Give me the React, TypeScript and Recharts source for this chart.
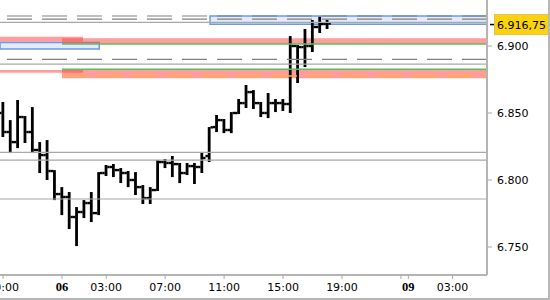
import React from 'react'
import { Bar, ComposedChart, ReferenceArea, ReferenceLine, XAxis, YAxis } from 'recharts';

// 30 minute bars, slot 0 = 20:00 on the 5th
const opens = [6850.0, 6835.8, 6828.3, 6847.0, 6835.8, 6822.4, 6818.6, 6806.7, 6789.5, 6787.3, 6772.4, 6776.1, 6782.8, 6775.3, 6805.2, 6809.7, 6807.4, 6805.2, 6800.0, 6794.7, 6786.5, 6792.5, 6813.4, 6812.7, 6811.9, 6805.2, 6810.4, 6809.7, 6817.9, 6839.5, 6844.7, 6837.3, 6850.0, 6857.4, 6865.6, 6857.4, 6850.0, 6857.4, 6857.4, 6856.7, 6900.0, 6899.2, 6900.0, 6914.2, 6916.4];
const highs = [6858.2, 6844.7, 6859.7, 6847.7, 6854.4, 6828.3, 6829.8, 6807.4, 6794.7, 6791.0, 6779.8, 6785.0, 6791.0, 6805.9, 6811.2, 6811.9, 6808.9, 6806.7, 6805.9, 6796.2, 6794.7, 6814.9, 6815.6, 6817.9, 6812.7, 6812.7, 6812.7, 6820.9, 6839.5, 6848.5, 6845.5, 6850.7, 6860.4, 6870.9, 6867.1, 6858.2, 6864.9, 6860.4, 6860.4, 6907.4, 6900.7, 6912.7, 6919.4, 6921.8, 6919.4];
const lows = [6832.1, 6820.1, 6823.8, 6827.6, 6820.1, 6805.2, 6800.0, 6785.0, 6773.8, 6763.4, 6750.7, 6771.6, 6768.6, 6773.8, 6803.0, 6802.2, 6797.7, 6794.7, 6788.8, 6782.1, 6782.1, 6791.8, 6808.9, 6802.2, 6797.7, 6803.7, 6797.0, 6805.2, 6813.4, 6835.8, 6835.0, 6835.0, 6849.2, 6853.7, 6853.0, 6847.0, 6846.2, 6850.7, 6851.5, 6850.0, 6872.4, 6884.3, 6895.5, 6909.7, 6912.7];
const closes = [6835.8, 6828.3, 6847.0, 6835.8, 6822.4, 6818.6, 6806.7, 6789.5, 6787.3, 6772.4, 6776.1, 6782.8, 6775.3, 6805.2, 6809.7, 6807.4, 6805.2, 6800.0, 6794.7, 6786.5, 6792.5, 6813.4, 6812.7, 6811.9, 6805.2, 6810.4, 6809.7, 6816.4, 6839.3, 6844.7, 6837.3, 6850.0, 6857.4, 6865.6, 6857.4, 6850.0, 6857.4, 6857.4, 6856.7, 6900.0, 6899.2, 6900.0, 6914.2, 6916.4, 6916.75];

const lastPrice = 6916.75;

const tickSlots = [0, 8, 14, 22, 30, 38, 46, 54, 55, 61];
const tickLabels = ['20:00', '06', '03:00', '07:00', '11:00', '15:00', '19:00', '', '09', '03:00'];
const dayTicks = ['06', '09'];
const priceTicks = [6750, 6800, 6850, 6900];

const slotMin = -0.414;
const slotMax = 65.68;
const sessionStart = 8;
const prevSessionEnd = 10.85;

// levels
const dashedGrayLevels = [6922.4, 6920.1, 6890.0];
const solidGrayLevels = [6917.7, 6886.5, 6820.6, 6814.9, 6785.8];
const greenLevels = [6901.5, 6882.6];
const orangeLevels = [6877.6];
const prevSessionZones = [[6903.2, 6906.9], [6880.0, 6882.1]];
const sessionZones = [[6901.5, 6905.7], [6875.9, 6882.1]];
const blueZoneSlots = [[slotMin, 13.06], [28.09, slotMax]];
const blueZonePrices = [[6897.7, 6902.7], [6916.2, 6922.4]];

const data = opens.map((o, i) => ({
    slot: i,
    open: o,
    high: highs[i],
    low: lows[i],
    close: closes[i],
    range: [lows[i], highs[i]]
}));

const fmt = (v: number) => {
    const s = Math.round(v).toString();
    return s.slice(0, s.length - 3) + '.' + s.slice(-3);
};

const fmtLast = (v: number) => {
    const [a, b] = v.toFixed(2).split('.');
    return fmt(Number(a)) + ',' + b;
};

const OhlcBar = (props: any) => {
    const { x, y, width, height } = props;
    const p = props.payload || props;
    if (height == null || isNaN(y)) return null;
    const cx = x + width / 2;
    const span = p.high - p.low || 1;
    const yo = y + ((p.high - p.open) / span) * height;
    const yc = y + ((p.high - p.close) / span) * height;
    return (
        <g fill="#000">
            <rect x={cx - 1.4} y={y} width={2.8} height={Math.max(height, 1)} />
            <rect x={cx - 3.7} y={yo - 1.2} width={2.4} height={2.4} />
            <rect x={cx + 1.3} y={yc - 1.2} width={2.4} height={2.4} />
        </g>
    );
};

const TimeTick = (props: any) => {
    const { x, y, payload } = props;
    const idx = tickSlots.indexOf(payload.value);
    const label = tickLabels[idx] || '';
    const bold = dayTicks.includes(label);
    return (
        <text x={x} y={y} dy={8} textAnchor="middle" fill="#000"
            fontFamily={bold ? 'Liberation Serif' : 'DejaVu Sans'}
            fontWeight={bold ? 'bold' : 'normal'} fontSize={bold ? 12.5 : 11}>
            {label}
        </text>
    );
};

const PriceTick = (props: any) => {
    const { x, y, payload } = props;
    if (payload.value === lastPrice) {
        return (
            <g>
                <line x1={x - 7} x2={x - 3} y1={y + 1} y2={y + 1} stroke="#000" strokeWidth={1.5} />
                <rect x={x - 2.5} y={y - 9} width={54} height={20} fill="#fbd20e" stroke="#e0c252" />
                <text x={x} y={y} dy={5} fill="#000" fontSize={11} fontFamily="DejaVu Sans">{fmtLast(payload.value)}</text>
            </g>
        );
    }
    return (
        <g>
            <line x1={x - 9} x2={x - 5} y1={y} y2={y} stroke="#a8a8a8" />
            <text x={x} y={y} dy={4} fill="#000" fontSize={11} fontFamily="DejaVu Sans">{fmt(payload.value)}</text>
        </g>
    );
};

export default function App() {
    return (
        <div style={{ position: 'absolute', left: 0, top: 0, width: 550, height: 300, boxSizing: 'border-box', borderRight: '2px solid #b8b8b8', borderBottom: '2px solid #b8b8b8', background: '#fff' }}>
            <ComposedChart width={548} height={298} data={data} margin={{ top: 0, right: 0, bottom: 0, left: 0 }}
                style={{ fontFamily: 'DejaVu Sans' }}>
                <XAxis dataKey="slot" type="number" domain={[slotMin, slotMax]} allowDataOverflow
                    ticks={tickSlots} interval={0} height={23} tickSize={4} tickMargin={4}
                    axisLine={{ stroke: '#b4b4b4', strokeWidth: 2 }} tickLine={{ stroke: '#a8a8a8' }}
                    tick={<TimeTick />} />
                <YAxis orientation="right" type="number" domain={[6729.1, 6934.33]} allowDataOverflow
                    ticks={[...priceTicks, lastPrice]} interval={0} width={61} tickSize={4} tickMargin={6}
                    axisLine={{ stroke: '#b4b4b4', strokeWidth: 2 }} tickLine={false}
                    tick={<PriceTick />} />

                {blueZoneSlots.map((s, k) => (
                    <ReferenceArea key={'b' + k} x1={s[0]} x2={s[1]} y1={blueZonePrices[k][0]} y2={blueZonePrices[k][1]}
                        fill="#e3eaf8" fillOpacity={1} stroke="#6b9be6" strokeWidth={1.5} ifOverflow="hidden" />
                ))}
                {prevSessionZones.map((z, k) => (
                    <ReferenceArea key={'p' + k} x1={slotMin} x2={prevSessionEnd} y1={z[0]} y2={z[1]}
                        fill="#ff4d4d" fillOpacity={0.55} stroke="none" ifOverflow="hidden" />
                ))}
                {sessionZones.map((z, k) => (
                    <ReferenceArea key={'s' + k} x1={sessionStart} x2={slotMax} y1={z[0]} y2={z[1]}
                        fill="#ff4d4d" fillOpacity={0.55} stroke="none" ifOverflow="hidden" />
                ))}
                {solidGrayLevels.map((v) => (
                    <ReferenceLine key={'g' + v} y={v} stroke="#a8a8a8" strokeWidth={1.2} />
                ))}
                {dashedGrayLevels.map((v) => (
                    <ReferenceLine key={'d' + v} y={v} stroke="#808080" strokeWidth={1.2} strokeDasharray="25 10" />
                ))}
                {greenLevels.map((v) => (
                    <ReferenceLine key={'n' + v} segment={[{ x: sessionStart, y: v }, { x: slotMax, y: v }]}
                        stroke="#5cbf5c" strokeWidth={1.5} />
                ))}
                {orangeLevels.map((v) => (
                    <ReferenceLine key={'o' + v} segment={[{ x: sessionStart, y: v }, { x: slotMax, y: v }]}
                        stroke="#ffb030" strokeWidth={1.5} strokeDasharray="25 10" />
                ))}

                <Bar dataKey="range" barSize={3} shape={<OhlcBar />} isAnimationActive={false} />
            </ComposedChart>
        </div>
    );
}
